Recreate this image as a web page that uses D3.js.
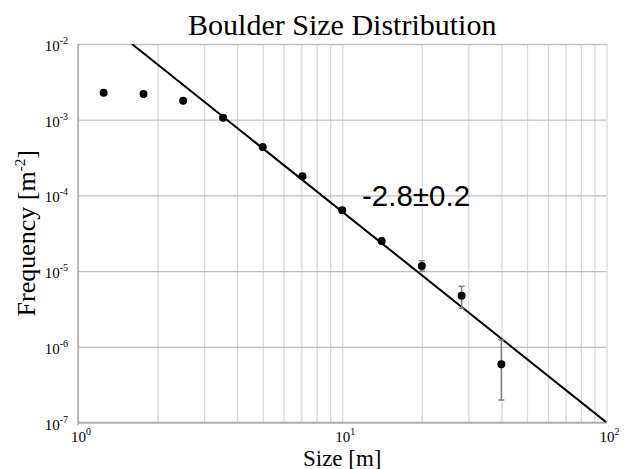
<!DOCTYPE html>
<html>
<head>
<meta charset="utf-8">
<script src="https://cdn.jsdelivr.net/npm/d3@7"></script>
<style>
body { margin: 0; background: #fff; }
</style>
</head>
<body>
<svg id="chart" width="634" height="469"></svg>
<script>
// data
var sizes = [1.25, 1.77, 2.5, 3.54, 5, 7.07, 10, 14.1, 20, 28.3, 40];
var freqs = [2.27e-3, 2.19e-3, 1.78e-3, 1.06e-3, 4.35e-4, 1.79e-4, 6.35e-5, 2.5e-5, 1.17e-5, 4.73e-6, 5.87e-7];

// error bars (only visible on the last three points)
var errSizes = [20, 28.3, 40];
var errTop = [1.37e-5, 6.3e-6, 1.23e-6];
var errBottom = [1.0e-5, 3.23e-6, 1.98e-7];

// power law fit, end points
var fitSizes = [1.6, 100];
var fitFreqs = [1e-2, 1e-7];
var fitLabel = "-2.8\u00b10.2";

var xTickValues = [1, 10, 100];
var xTickExp = ["0", "1", "2"];
var yTickValues = [1e-2, 1e-3, 1e-4, 1e-5, 1e-6, 1e-7];
var yTickExp = ["-2", "-3", "-4", "-5", "-6", "-7"];

var svgWidth = 634, svgHeight = 469;
var margin = {top: 44, right: 27.5, bottom: 46.5, left: 78};
var width = svgWidth - margin.left - margin.right;
var height = svgHeight - margin.top - margin.bottom;

var svg = d3.select('#chart');
var g = svg.append('g')
    .attr('transform', 'translate(' + margin.left + ',' + margin.top + ')');

var x = d3.scaleLog().domain([1, 100]).range([0, width]);
var y = d3.scaleLog().domain([1e-7, 1e-2]).range([height, 0]);

// vertical grid: every 1..9 inside each decade
var xGrid = [];
[1, 10].forEach(function(d) {
    for (var k = 1; k <= 9; k++) xGrid.push(d * k);
});
xGrid.push(100);

g.append('g')
    .attr('class', 'xgrid')
    .attr('transform', 'translate(0,' + height + ')')
    .call(d3.axisBottom(x).tickValues(xGrid).tickSize(-height).tickFormat(''))
    .call(function(s) {
        s.select('.domain').remove();
        s.selectAll('line').attr('stroke', '#d9d9d9').attr('stroke-width', 1.3);
    });

g.append('g')
    .attr('class', 'ygrid')
    .call(d3.axisLeft(y).tickValues(yTickValues).tickSize(-width).tickFormat(''))
    .call(function(s) {
        s.select('.domain').remove();
        s.selectAll('line').attr('stroke', '#c0c0c0').attr('stroke-width', 1.3);
    });

// axis lines
g.append('line')
    .attr('x1', 0).attr('x2', 0).attr('y1', 0).attr('y2', height + 3)
    .attr('stroke', '#a8a8a8').attr('stroke-width', 1.5);
g.append('line')
    .attr('x1', 0).attr('x2', width).attr('y1', height).attr('y2', height)
    .attr('stroke', '#a8a8a8').attr('stroke-width', 1.5);

// tick labels, 10 with superscript exponent
var xAxis = g.append('g')
    .attr('transform', 'translate(0,' + height + ')')
    .call(d3.axisBottom(x).tickValues(xTickValues).tickSize(0).tickFormat(''));
xAxis.select('.domain').remove();
xAxis.selectAll('.tick').each(function(d, i) {
    var t = d3.select(this).append('text')
        .attr('x', -7.5)
        .attr('y', 19)
        .attr('fill', '#000')
        .style('font-family', '"Liberation Serif", "Times New Roman", serif')
        .style('font-size', '15px')
        .attr('text-anchor', 'start');
    t.append('tspan').text('10');
    t.append('tspan').attr('dy', -7).style('font-size', '10px').text(xTickExp[i]);
});

var yAxis = g.append('g')
    .call(d3.axisLeft(y).tickValues(yTickValues).tickSize(0).tickFormat(''));
yAxis.select('.domain').remove();
yAxis.selectAll('.tick').each(function(d, i) {
    var t = d3.select(this).append('text')
        .attr('x', -10)
        .attr('y', 6.5)
        .attr('fill', '#000')
        .style('font-family', '"Liberation Serif", "Times New Roman", serif')
        .style('font-size', '15px')
        .attr('text-anchor', 'end');
    t.append('tspan').text('10');
    t.append('tspan').attr('dy', -7).style('font-size', '10px').text(yTickExp[i]);
});

// fit line, clipped to plot area
svg.append('clipPath').attr('id', 'plotclip')
    .append('rect').attr('width', width).attr('height', height);

var fitLine = d3.line()
    .x(function(d) { return x(d[0]); })
    .y(function(d) { return y(d[1]); });

g.append('path')
    .datum(d3.zip(fitSizes, fitFreqs))
    .attr('clip-path', 'url(#plotclip)')
    .attr('d', fitLine)
    .attr('fill', 'none')
    .attr('stroke', '#000')
    .attr('stroke-width', 2);

// error bars
var errs = d3.zip(errSizes, errTop, errBottom);
var eb = g.selectAll('.err')
    .data(errs)
    .enter()
    .append('g')
    .attr('class', 'err')
    .attr('stroke', '#7f7f7f')
    .attr('stroke-width', 1.5);
eb.append('line')
    .attr('x1', function(d) { return x(d[0]); })
    .attr('x2', function(d) { return x(d[0]); })
    .attr('y1', function(d) { return y(d[1]); })
    .attr('y2', function(d) { return y(d[2]); });
eb.append('line')
    .attr('x1', function(d) { return x(d[0]) - 3; })
    .attr('x2', function(d) { return x(d[0]) + 3; })
    .attr('y1', function(d) { return y(d[1]); })
    .attr('y2', function(d) { return y(d[1]); });
eb.append('line')
    .attr('x1', function(d) { return x(d[0]) - 3; })
    .attr('x2', function(d) { return x(d[0]) + 3; })
    .attr('y1', function(d) { return y(d[2]); })
    .attr('y2', function(d) { return y(d[2]); });

// points
g.selectAll('circle')
    .data(d3.zip(sizes, freqs))
    .enter()
    .append('circle')
    .attr('cx', function(d) { return x(d[0]); })
    .attr('cy', function(d) { return y(d[1]); })
    .attr('r', 4)
    .attr('fill', '#000');

// slope annotation
g.append('text')
    .attr('x', 284)
    .attr('y', 162)
    .style('font-family', '"Liberation Sans", Arial, sans-serif')
    .style('font-size', '29.5px')
    .attr('fill', '#000')
    .text(fitLabel);

// title and axis titles
svg.append('text')
    .attr('x', margin.left + width / 2)
    .attr('y', 35)
    .attr('text-anchor', 'middle')
    .style('font-family', '"Liberation Serif", "Times New Roman", serif')
    .style('font-size', '30px')
    .text('Boulder Size Distribution');

svg.append('text')
    .attr('x', margin.left + width / 2)
    .attr('y', 465.5)
    .attr('text-anchor', 'middle')
    .style('font-family', '"Liberation Serif", "Times New Roman", serif')
    .style('font-size', '23px')
    .text('Size [m]');

var yl = svg.append('text')
    .attr('transform', 'translate(35,' + (margin.top + height / 2) + ') rotate(-90)')
    .attr('text-anchor', 'middle')
    .style('font-family', '"Liberation Serif", "Times New Roman", serif')
    .style('font-size', '26px');
yl.append('tspan').text('Frequency [m');
yl.append('tspan').attr('dy', -10).style('font-size', '15px').text('-2');
yl.append('tspan').attr('dy', 10).text(']');
</script>
</body>
</html>
